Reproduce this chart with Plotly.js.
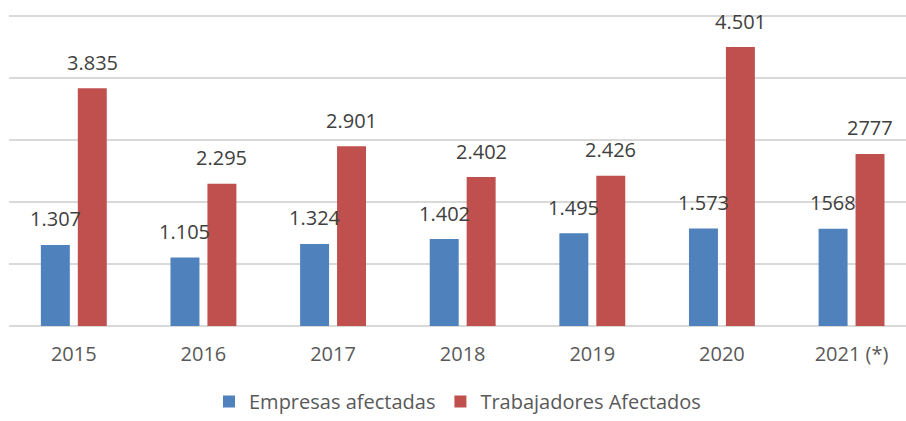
<!DOCTYPE html>
<html><head><meta charset="utf-8">
<script src="https://cdn.plot.ly/plotly-3.0.1.min.js"></script>
<style>html,body{margin:0;padding:0;background:#fff}#c{width:906px;height:421px}</style>
</head><body><div id="c"></div>
<script>
const categories = ["2015","2016","2017","2018","2019","2020","2021 (*)"];
const empresas = [1307,1105,1324,1402,1495,1573,1568];
const trabajadores = [3835,2295,2901,2402,2426,4501,2777];
const empresasLabels = ["1.307","1.105","1.324","1.402","1.495","1.573","1568"];
const trabajadoresLabels = ["3.835","2.295","2.901","2.402","2.426","4.501","2777"];
const gridValues = [1000,2000,3000,4000,5000];

const FONT = "Open Sans, Liberation Sans, sans-serif";
const traces = [
  {type:"bar", name:"Empresas afectadas", x:categories, y:empresas, marker:{color:"#4F81BD"}, hoverinfo:"none"},
  {type:"bar", name:"Trabajadores Afectados", x:categories, y:trabajadores, marker:{color:"#C0504D"}, hoverinfo:"none"}
];
const annotations = [];
categories.forEach((c,i)=>{
  annotations.push({x:i, y:empresas[i], text:empresasLabels[i], xref:"x", yref:"y", showarrow:false, yanchor:"middle", yshift:26, xshift:-18.5, font:{family:FONT,size:20,color:"#404040"}});
  annotations.push({x:i, y:trabajadores[i], text:trabajadoresLabels[i], xref:"x", yref:"y", showarrow:false, yanchor:"middle", yshift:26, xshift:18.5, font:{family:FONT,size:20,color:"#404040"}});
});
const layout = {
  width:906, height:421,
  margin:{l:9, r:0, t:13, b:95, autoexpand:false},
  paper_bgcolor:"#fff", plot_bgcolor:"#fff",
  barmode:"group", bargap:0.43, bargroupgap:0.216,
  showlegend:true,
  legend:{orientation:"h", x:0.5, xanchor:"center", yref:"container", y:0, yanchor:"bottom", font:{family:FONT,size:20,color:"#595959"}, itemwidth:30, traceorder:"normal"},
  xaxis:{type:"category", range:[-0.5,6.42], showgrid:false, zeroline:false, showline:false, ticks:"", ticklabelstandoff:14, tickfont:{family:FONT,size:20,color:"#595959"}, fixedrange:true},
  yaxis:{range:[0,5050], tickvals:gridValues, showticklabels:false, showgrid:true, gridcolor:"#d9d9d9", gridwidth:1.5, zeroline:true, zerolinecolor:"#d9d9d9", zerolinewidth:1.5, showline:false, fixedrange:true},
  annotations:annotations
};
Plotly.newPlot("c", traces, layout, {displayModeBar:false, staticPlot:true});
</script></body></html>
